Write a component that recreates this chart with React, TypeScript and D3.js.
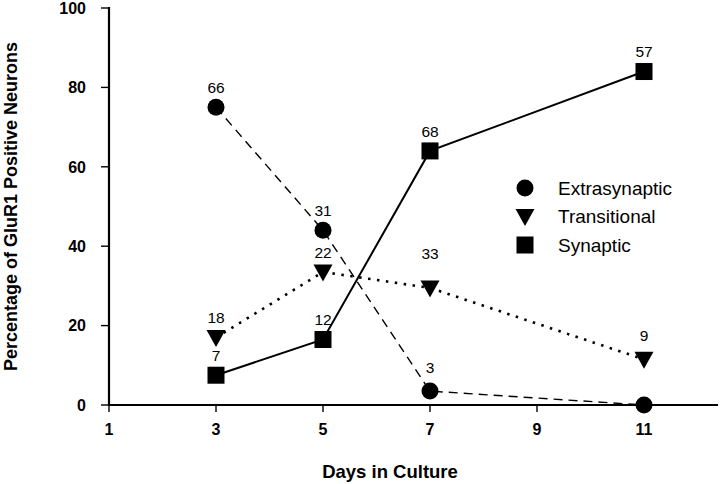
import React from "react";
import * as d3 from "d3";

// days on the x axis
const days = [3, 5, 7, 11];
const xTicks = [1, 3, 5, 7, 9, 11];
const yTicks = [0, 20, 40, 60, 80, 100];

// percentages
const extrasynaptic = [75, 44, 3.5, 0];
const transitional = [17, 33.5, 29.5, 11.5];
const synaptic = [7.5, 16.5, 64, 84];

// n printed above each point ("" = no label)
const extraLabels = ["66", "31", "3", ""];
const transLabels = ["18", "22", "33", "9"];
const synLabels = ["7", "12", "68", "57"];

const seriesNames = ["Extrasynaptic", "Transitional", "Synaptic"];

const W = 720;
const H = 484;
const FONT = "'Liberation Sans', Arial, Helvetica, sans-serif";

const x = d3.scaleLinear().domain([1, 11]).range([109, 644]);
const y = d3.scaleLinear().domain([0, 100]).range([405, 8]);

function Marker({ kind, cx, cy }: { kind: string; cx: number; cy: number }) {
  if (kind === "circle") return <circle cx={cx} cy={cy} r={8.5} fill="#000" />;
  if (kind === "square")
    return <rect x={cx - 8.5} y={cy - 8.5} width={17} height={17} fill="#000" />;
  // downward triangle
  const s = 9.5;
  return (
    <path
      d={`M${cx - s},${cy - 7.5}L${cx + s},${cy - 7.5}L${cx},${cy + 9.5}Z`}
      fill="#000"
    />
  );
}

export default function App() {
  const series = [
    { name: seriesNames[0], values: extrasynaptic, labels: extraLabels, kind: "circle", dash: "9,6", width: 1.4 },
    { name: seriesNames[1], values: transitional, labels: transLabels, kind: "triangle", dash: "2.5,6.5", width: 2.6 },
    { name: seriesNames[2], values: synaptic, labels: synLabels, kind: "square", dash: "none", width: 2 },
  ];

  const line = d3
    .line<number>()
    .x((_, i) => x(days[i]))
    .y((v) => y(v));

  // small per-label nudges so the numbers clear the lines, like the original
  const labelLift = (si: number, i: number) => {
    if (si === 1 && i === 2) return 34;
    if ((si === 0 && i === 2) || (si === 1 && i === 3)) return 24;
    return 20;
  };

  return (
    <svg
      width={W}
      height={H}
      style={{ position: "absolute", left: 0, top: 0, background: "#fff" }}
      fontFamily={FONT}
    >
      {/* lines */}
      {series.map((s) => (
        <path
          key={s.name + "-line"}
          d={line(s.values) ?? ""}
          fill="none"
          stroke="#000"
          strokeWidth={s.width}
          strokeDasharray={s.dash}
        />
      ))}

      {/* axes */}
      <line x1={x(1)} x2={x(1)} y1={y(100) - 1} y2={y(0) + 1} stroke="#000" strokeWidth={2.2} />
      <line x1={x(1) - 1} x2={718} y1={y(0)} y2={y(0)} stroke="#000" strokeWidth={2.2} />
      {yTicks.map((t) => (
        <g key={"y" + t}>
          <line x1={x(1) - 8} x2={x(1)} y1={y(t)} y2={y(t)} stroke="#000" strokeWidth={1.4} />
          <text
            x={86}
            y={y(t)}
            dy="0.36em"
            textAnchor="end"
            fontSize={16}
            fontWeight="bold"
          >
            {t}
          </text>
        </g>
      ))}
      {xTicks.map((t) => (
        <g key={"x" + t}>
          <line x1={x(t)} x2={x(t)} y1={y(0)} y2={y(0) + 7} stroke="#000" strokeWidth={1.4} />
          <text x={x(t)} y={y(0) + 24} dy="0.36em" textAnchor="middle" fontSize={16} fontWeight="bold">
            {t}
          </text>
        </g>
      ))}

      {/* axis titles */}
      <text x={390} y={471} dy="0.36em" textAnchor="middle" fontSize={18.5} fontWeight="bold">
        Days in Culture
      </text>
      <text
        transform={`translate(11,${(y(0) + y(100)) / 2}) rotate(-90)`}
        dy="0.36em"
        textAnchor="middle"
        fontSize={18}
        fontWeight="bold"
      >
        Percentage of GluR1 Positive Neurons
      </text>

      {/* markers and point labels */}
      {series.map((s, si) =>
        s.values.map((v, i) => (
          <g key={s.name + i}>
            <Marker kind={s.kind} cx={x(days[i])} cy={y(v)} />
            {s.labels[i] && (
              <text
                x={x(days[i])}
                y={y(v) - labelLift(si, i)}
                dy="0.36em"
                textAnchor="middle"
                fontSize={15.5}
              >
                {s.labels[i]}
              </text>
            )}
          </g>
        ))
      )}

      {/* legend */}
      {series.map((s, i) => (
        <g key={s.name + "-legend"} transform={`translate(525,${188 + i * 28.5})`}>
          <Marker kind={s.kind} cx={0} cy={0} />
          <text x={33} y={0} dy="0.36em" fontSize={19}>
            {s.name}
          </text>
        </g>
      ))}
    </svg>
  );
}
